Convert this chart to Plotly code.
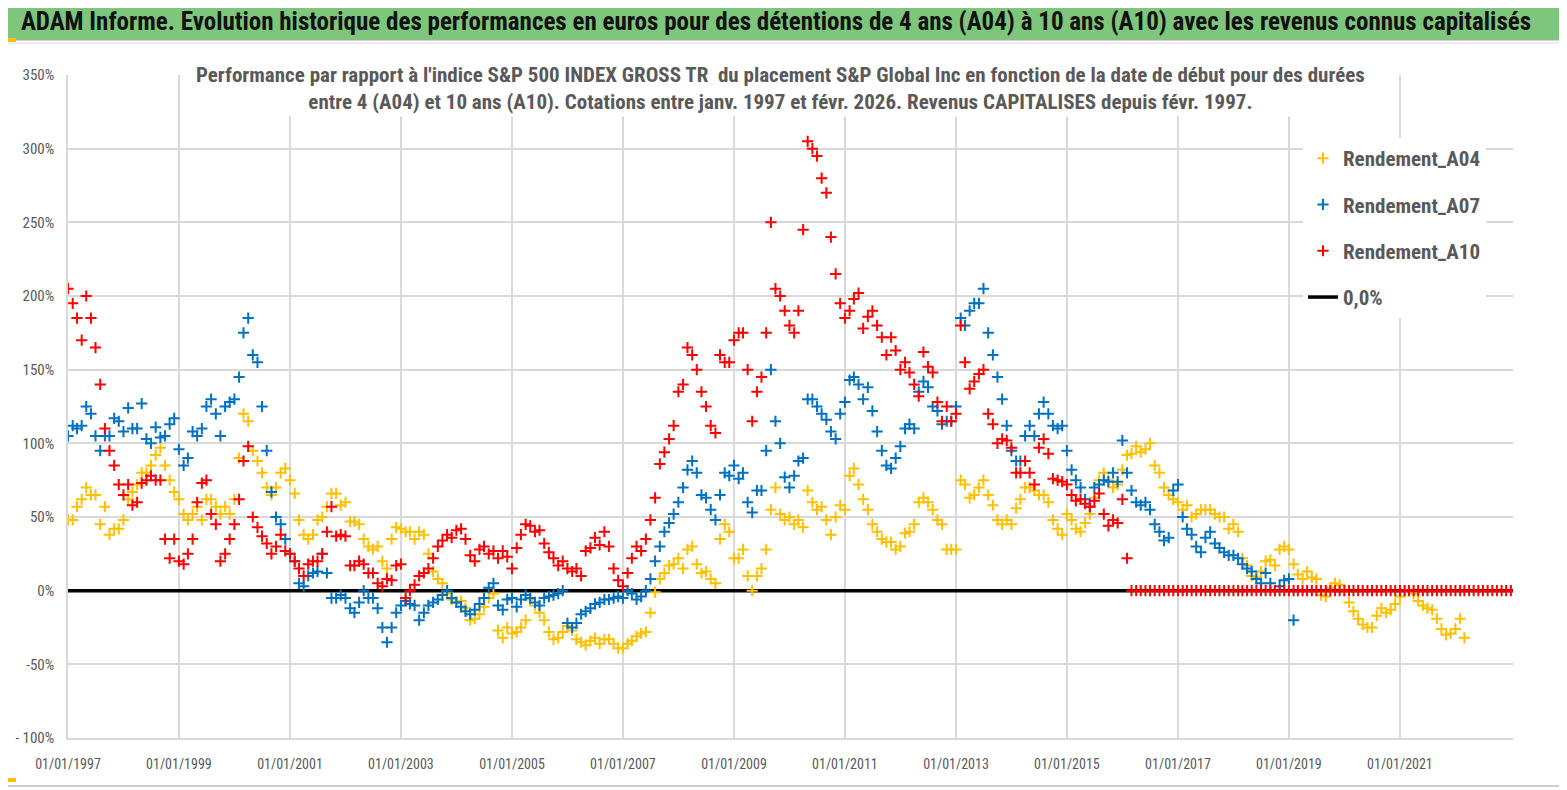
import pandas as pd
import plotly.graph_objects as go

# ===================== DONNÉES =====================
# Rendement relatif (%), un point par mois à partir de janv. 1997

DEBUT = "1997-01-01"

REND_A04 = [
    48, 48, 57, 62, 70, 65, 65, 45, 57, 38, 42, 42,          # 1997
    48, 62, 67, 72, 80, 80, 85, 92, 97, 85, 75, 67,          # 1998
    62, 52, 48, 52, 57, 48, 62, 62, 57, 52, 57, 52,          # 1999
    62, 90, 120, 115, 95, 88, 80, 70, 65, 70, 80, 83,        # 2000
    75, 66, 48, 38, 35, 38, 48, 50, 57, 66, 66, 58,          # 2001
    60, 47, 47, 45, 35, 30, 28, 30, 20, 15, 35, 43,          # 2002
    42, 40, 40, 35, 40, 38, 25, 13, 8, 5, -2, -6,            # 2003
    -8, -7, -12, -20, -19, -16, -11, -5, -2, -27, -32, -25,  # 2004
    -29, -28, -25, -20, -6, -10, -15, -20, -28, -33, -32, -28,  # 2005
    -24, -27, -33, -35, -37, -34, -32, -36, -33, -33, -36, -39,  # 2006
    -39, -36, -34, -31, -29, -28, -15, -1, 8, 12, 17, 18,    # 2007
    22, 15, 28, 30, 18, 12, 13, 8, 5, 35, 45, 40,            # 2008
    22, 22, 28, 10, 0, 10, 15, 28, 55, 70, 52, 48,           # 2009
    50, 45, 48, 43, 68, 60, 55, 57, 48, 38, 50, 58,          # 2010
    55, 78, 83, 72, 62, 55, 45, 40, 35, 33, 33, 28,          # 2011
    30, 39, 40, 45, 60, 63, 60, 55, 48, 45, 28, 28,          # 2012
    28, 75, 72, 63, 65, 70, 75, 65, 58, 48, 45, 48,          # 2013
    45, 56, 62, 70, 70, 68, 65, 65, 60, 48, 42, 38,          # 2014
    52, 48, 42, 40, 46, 52, 63, 75, 80, 75, 70, 72,          # 2015
    82, 92, 93, 98, 94, 96, 100, 85, 80, 70, 65, 62,         # 2016
    60, 55, 58, 50, 52, 55, 55, 55, 52, 50, 50, 42,          # 2017
    45, 40, 22, 17, 10, 9, 13, 20, 21, 17, 28, 30,           # 2018
    28, 18, 11, 8, 13, 9, 8, -3, -4, 2, 5, 4,                # 2019
    0, -8, -14, -19, -23, -25, -25, -17, -12, -15, -13, -9,  # 2020
    -4, 0, 0, -2, -7, -10, -12, -13, -19, -26, -30, -29,     # 2021
    -26, -19, -32,                                           # 2022
]

REND_A07 = [
    105, 112, 110, 112, 125, 120, 105, 95, 105, 105, 117, 115,   # 1997
    108, 124, 110, 110, 127, 103, 100, 111, 104, 105, 113, 117,  # 1998
    96, 85, 90, 108, 105, 110, 125, 130, 120, 105, 125, 128,     # 1999
    130, 145, 175, 185, 160, 155, 125, 95, 67, 50, 45, 35,       # 2000
    25, 20, 5, 3, 10, 12, 13, 25, 12, -5, -5, -3,                # 2001
    -5, -12, -15, -8, 0, -5, -5, -12, -25, -35, -25, -15,        # 2002
    -10, -7, -9, -10, -20, -15, -10, -8, -6, -3, 0, -5,          # 2003
    -8, -11, -14, -16, -13, -9, -5, 2, 5, -10, -13, -6,          # 2004
    -5, -11, -6, -3, -5, -8, -10, -5, -4, -3, -2, 0,             # 2005
    -22, -25, -22, -16, -14, -12, -9, -8, -6, -6, -5, -4,        # 2006
    -5, 0, -2, -6, -4, 0, 8, 20, 30, 40, 46, 52,                 # 2007
    60, 70, 82, 88, 80, 65, 63, 55, 48, 65, 80, 78,              # 2008
    85, 76, 80, 60, 53, 68, 68, 95, 150, 115, 100, 77,           # 2009
    70, 78, 88, 90, 130, 130, 125, 120, 116, 108, 103, 120,      # 2010
    128, 143, 145, 140, 130, 138, 122, 108, 95, 85, 83, 90,      # 2011
    98, 110, 113, 110, 135, 142, 138, 125, 122, 113, 115, 115,   # 2012
    125, 185, 180, 190, 195, 195, 205, 175, 160, 145, 130, 112,  # 2013
    95, 88, 88, 105, 112, 105, 120, 128, 120, 112, 110, 112,     # 2014
    95, 82, 75, 70, 62, 57, 70, 72, 75, 74, 80, 74,              # 2015
    102, 80, 68, 60, 58, 60, 55, 45, 40, 34, 36, 68,             # 2016
    72, 50, 42, 38, 30, 26, 36, 40, 32, 29, 26, 24,              # 2017
    24, 22, 18, 15, 13, 8, 5, 12, 5, 0, 3, 7,                    # 2018
    8, -20,                                                      # 2019
]

REND_A10 = [
    205, 195, 185, 170, 200, 185, 165, 140, 110, 95, 85, 72,     # 1997
    65, 72, 58, 60, 73, 75, 78, 75, 75, 35, 22, 35,              # 1998
    20, 18, 25, 35, 60, 73, 75, 52, 45, 20, 25, 35,              # 1999
    45, 62, 88, 98, 50, 43, 37, 32, 25, 30, 38, 27,              # 2000
    25, 20, 15, 10, 18, 20, 20, 25, 40, 57, 37, 38,              # 2001
    37, 17, 17, 20, 18, 12, 12, 5, 3, 8, 7, 17,                  # 2002
    18, -5, 0, 4, 10, 12, 15, 22, 30, 34, 38, 36,                # 2003
    41, 42, 35, 24, 20, 28, 30, 25, 27, 22, 27, 23,              # 2004
    15, 29, 38, 45, 44, 40, 41, 32, 26, 22, 17, 20,              # 2005
    15, 13, 15, 10, 27, 29, 36, 31, 40, 30, 15, 7,               # 2006
    3, 12, 22, 30, 27, 35, 48, 63, 86, 94, 103, 112,             # 2007
    135, 140, 165, 160, 150, 135, 125, 112, 107, 160, 155, 155,  # 2008
    170, 175, 175, 150, 115, 135, 145, 175, 250, 205, 200, 190,  # 2009
    180, 175, 190, 245, 305, 300, 295, 280, 270, 240, 215, 195,  # 2010
    185, 190, 198, 202, 178, 186, 190, 180, 172, 160, 172, 163,  # 2011
    150, 155, 148, 140, 132, 162, 152, 148, 128, 115, 125, 115,  # 2012
    120, 180, 155, 137, 142, 147, 150, 120, 113, 100, 103, 102,  # 2013
    97, 80, 80, 88, 80, 72, 97, 103, 93, 76, 75, 74,             # 2014
    72, 65, 61, 62, 59, 57, 61, 66, 52, 44, 48, 46,              # 2015
    62, 22, 0, 0, 0, 0, 0, 0, 0, 0, 0, 0,                        # 2016
    0, 0, 0, 0, 0, 0, 0, 0, 0, 0, 0, 0,                          # 2017
    0, 0, 0, 0, 0, 0, 0, 0, 0, 0, 0, 0,                          # 2018
    0, 0, 0, 0, 0, 0, 0, 0, 0, 0, 0, 0,                          # 2019
    0, 0, 0, 0, 0, 0, 0, 0, 0, 0, 0, 0,                          # 2020
    0, 0, 0, 0, 0, 0, 0, 0, 0, 0, 0, 0,                          # 2021
    0, 0, 0, 0, 0, 0, 0, 0, 0, 0, 0, 0,                          # 2022
    0,                                                           # 2023
]

ZERO_DATES = ["1997-01-01", "2023-01-15"]
ZERO_VALUES = [0, 0]

TICK_DATES = ["1997-01-01", "1999-01-01", "2001-01-01", "2003-01-01", "2005-01-01",
              "2007-01-01", "2009-01-01", "2011-01-01", "2013-01-01", "2015-01-01",
              "2017-01-01", "2019-01-01", "2021-01-01"]
TICK_LABELS = ["01/01/1997", "01/01/1999", "01/01/2001", "01/01/2003", "01/01/2005",
               "01/01/2007", "01/01/2009", "01/01/2011", "01/01/2013", "01/01/2015",
               "01/01/2017", "01/01/2019", "01/01/2021"]

Y_TICKS = [-100, -50, 0, 50, 100, 150, 200, 250, 300, 350]
Y_LABELS = ["- 100%", "-50%", "0%", "50%", "100%", "150%", "200%", "250%", "300%", "350%"]

# ===================== STYLE =====================
COUL_A04 = "#FFC000"
COUL_A07 = "#0070C0"
COUL_A10 = "#FF0000"
GRIS_TXT = "#595959"
GRILLE = "#D9D9D9"
VERT = "#7DC67B"
POLICE = "Liberation Sans Narrow, Arial Narrow, Roboto Condensed, sans-serif"

# la page HTML décale la figure de 8 px (marge du body) : on travaille en coordonnées
# de l'image de référence, puis on retire ce décalage
DEC = 8
W, H = 1567 - DEC, 790 - DEC
ML, MR, MT, MB = 68 - DEC, 54, 75 - DEC, 52
PW, PH = W - ML - MR, H - MT - MB


def px_x(x):
    return (x - DEC - ML) / PW


def px_y(y):
    return 1 - (y - DEC - MT) / PH


def dates_mensuelles(valeurs):
    return pd.date_range(DEBUT, periods=len(valeurs), freq="MS")


fig = go.Figure()

# ligne 0 dessinée d'abord (sous les points), mais dernière dans la légende
fig.add_trace(go.Scatter(
    x=ZERO_DATES, y=ZERO_VALUES, mode="lines", name="0,0%",
    line=dict(color="black", width=3.5), legendrank=4, legendgroup="z",
))

for nom, vals, coul, rang in [("Rendement_A04", REND_A04, COUL_A04, 1),
                              ("Rendement_A07", REND_A07, COUL_A07, 2),
                              ("Rendement_A10", REND_A10, COUL_A10, 3)]:
    fig.add_trace(go.Scatter(
        x=dates_mensuelles(vals), y=vals, mode="markers", name=nom,
        marker=dict(symbol="cross-thin", size=8, color=coul,
                    line=dict(color=coul, width=2)),
        legendrank=rang, legendgroup=nom,
    ))

# bandeau vert du titre, filet bas, petites poignées orange
fig.add_shape(type="rect", xref="paper", yref="paper",
              x0=px_x(0), x1=px_x(1567), y0=px_y(40), y1=px_y(2),
              fillcolor=VERT, line=dict(color="#A6A6A6", width=1), layer="below")
fig.add_shape(type="line", xref="paper", yref="paper",
              x0=px_x(8), x1=px_x(1567), y0=px_y(43), y1=px_y(43),
              line=dict(color="#E6E6E6", width=1.5))
fig.add_shape(type="line", xref="paper", yref="paper",
              x0=px_x(8), x1=px_x(1567), y0=px_y(786), y1=px_y(786),
              line=dict(color="#BFBFBF", width=1.5))
for y_h in (38, 778):
    fig.add_shape(type="rect", xref="paper", yref="paper",
                  x0=px_x(8), x1=px_x(16), y0=px_y(y_h + 4), y1=px_y(y_h),
                  fillcolor="#FFC000", line=dict(width=0))

fig.add_annotation(
    xref="paper", yref="paper", x=px_x(780), y=px_y(88),
    text="Performance par rapport à l'indice S&P 500 INDEX GROSS TR  du placement S&P Global Inc en fonction de la date de début pour des durées<br>"
         "entre 4 (A04) et 10 ans (A10). Cotations entre janv. 1997 et févr. 2026. Revenus CAPITALISES depuis févr. 1997.",
    showarrow=False, align="center", xanchor="center", yanchor="middle",
    font=dict(family=POLICE, size=21, color=GRIS_TXT, weight="bold"),
    bgcolor="white", borderpad=2,
)

fig.update_layout(
    width=W, height=H,
    margin=dict(l=ML, r=MR, t=MT, b=MB, autoexpand=False),
    paper_bgcolor="white", plot_bgcolor="white",
    font=dict(family=POLICE, color=GRIS_TXT),
    title=dict(
        text="ADAM Informe. Evolution historique des performances en euros pour des détentions de 4 ans (A04) à 10 ans (A10) avec les revenus connus capitalisés",
        x=(776 - DEC) / W, y=1 - (21 - DEC) / H, xanchor="center", yanchor="middle",
        font=dict(family=POLICE, size=25, color="#111111", weight="bold"),
    ),
    legend=dict(
        x=px_x(1303), y=px_y(138), xanchor="left", yanchor="top",
        bgcolor="white", font=dict(size=21, color=GRIS_TXT, weight="bold"),
        tracegroupgap=16, itemwidth=30,
    ),
    showlegend=True,
)

fig.update_xaxes(
    type="date", range=["1997-01-01", "2023-01-15"],
    tickvals=TICK_DATES, ticktext=TICK_LABELS, automargin=False,
    showgrid=True, gridcolor=GRILLE, gridwidth=1.5, zeroline=False,
    showline=True, linecolor=GRILLE, linewidth=1.5,
    ticks="", tickfont=dict(size=14, color=GRIS_TXT), ticklabelstandoff=12,
)
fig.update_yaxes(
    range=[-100, 350], tickvals=Y_TICKS, ticktext=Y_LABELS, automargin=False,
    showgrid=True, gridcolor=GRILLE, gridwidth=1.5, zeroline=False,
    showline=True, linecolor=GRILLE, linewidth=1.5,
    ticks="", tickfont=dict(size=15, color=GRIS_TXT), ticklabelstandoff=9,
)

fig.write_html("out.html")
